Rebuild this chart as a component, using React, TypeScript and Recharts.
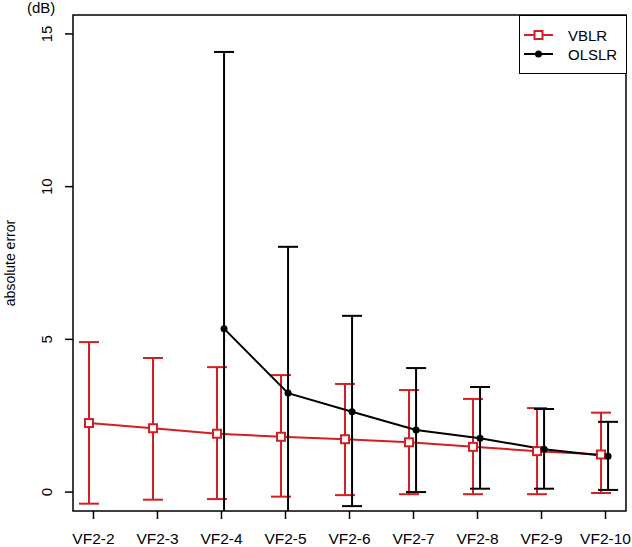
import { LineChart, Line, XAxis, YAxis, ErrorBar, ReferenceArea } from 'recharts'

const categories = ['VF2-2', 'VF2-3', 'VF2-4', 'VF2-5', 'VF2-6', 'VF2-7', 'VF2-8', 'VF2-9', 'VF2-10']

// VBLR: mean, upper whisker, lower whisker
const vblrMean = [2.26, 2.09, 1.91, 1.81, 1.73, 1.63, 1.48, 1.34, 1.23]
const vblrHigh = [4.91, 4.39, 4.09, 3.83, 3.54, 3.34, 3.05, 2.75, 2.6]
const vblrLow = [-0.38, -0.25, -0.23, -0.15, -0.1, -0.07, -0.07, -0.07, -0.03]

// OLSLR starts at VF2-4
const olslrMean = [null, null, 5.35, 3.24, 2.63, 2.03, 1.76, 1.4, 1.17]
const olslrHigh = [null, null, 14.41, 8.03, 5.77, 4.06, 3.44, 2.72, 2.3]
const olslrLow = [null, null, -3.71, -1.55, -0.46, 0.0, 0.11, 0.11, 0.07]

const yTicks = [0, 5, 10, 15]

const RED = '#d21f24'
const FONT = '"Liberation Sans", Arial, sans-serif'

const build = (mean: (number | null)[], hi: (number | null)[], lo: (number | null)[], shift: number) =>
  mean
    .map((m, i) => ({ x: i + 1 + shift, v: m, err: m == null ? null : [m - (lo[i] as number), (hi[i] as number) - m] }))
    .filter(d => d.v != null)

const vblrData = build(vblrMean, vblrHigh, vblrLow, -0.07)
const olslrData = build(olslrMean, olslrHigh, olslrLow, 0.04)

const X_MIN = 0.68
const X_MAX = 9.32
const Y_MIN = -0.62
const Y_MAX = 15.62

const Square = (props: any) => {
  const { cx, cy } = props
  if (cx == null || cy == null) return null
  return <rect x={cx - 4} y={cy - 4} width={8} height={8} fill="#fff" stroke={RED} strokeWidth={2} />
}

const Dot = (props: any) => {
  const { cx, cy } = props
  if (cx == null || cy == null) return null
  return <circle cx={cx} cy={cy} r={3.5} fill="#000" />
}

const YTick = (props: any) => {
  const { x, y, payload } = props
  const bx = x - 13
  return (
    <text x={bx} y={y} transform={`rotate(-90 ${bx} ${y})`} textAnchor="middle" fontSize={15} fontFamily={FONT} fill="#000">
      {payload.value}
    </text>
  )
}

const LegendBox = () => (
  <svg width={108} height={59} style={{ display: 'block' }}>
    <rect x={0.5} y={0.5} width={107} height={58} fill="#fff" stroke="#000" strokeWidth={1} />
    <line x1={5} x2={34} y1={20} y2={20} stroke={RED} strokeWidth={2} />
    <rect x={15.5} y={16} width={8} height={8} fill="#fff" stroke={RED} strokeWidth={2} />
    <text x={49} y={25.5} fontSize={15} fontFamily={FONT}>VBLR</text>
    <line x1={5} x2={34} y1={39} y2={39} stroke="#000" strokeWidth={2} />
    <circle cx={19.5} cy={39} r={3.5} fill="#000" />
    <text x={49} y={44.5} fontSize={15} fontFamily={FONT}>OLSLR</text>
  </svg>
)

export default function App() {
  return (
    <div style={{ position: 'relative', width: 632, height: 547, background: '#fff', overflow: 'hidden' }}>
      <style>{'body{margin:0} .recharts-errorBars, .recharts-errorBar { clip-path: url(#plotClip); }'}</style>
      <svg width={0} height={0} style={{ position: 'absolute' }}>
        <defs>
          <clipPath id="plotClip" clipPathUnits="userSpaceOnUse">
            <rect x={73} y={15} width={553} height={496} />
          </clipPath>
        </defs>
      </svg>
      <LineChart width={632} height={547} margin={{ top: 15, right: 6, left: 0, bottom: 0 }}>
        <XAxis
          dataKey="x"
          type="number"
          domain={[X_MIN, X_MAX]}
          allowDataOverflow
          ticks={[1, 2, 3, 4, 5, 6, 7, 8, 9]}
          tickFormatter={v => categories[v - 1]}
          height={36}
          tickSize={8}
          tickMargin={14}
          axisLine={false}
          tick={{ fill: '#000', fontSize: 15.5, fontFamily: FONT }}
          tickLine={{ stroke: '#000', strokeWidth: 1.5 }}
          interval={0}
        />
        <YAxis
          type="number"
          domain={[Y_MIN, Y_MAX]}
          allowDataOverflow
          ticks={yTicks}
          width={73}
          tickSize={8}
          tickMargin={0}
          axisLine={false}
          tick={<YTick />}
          tickLine={{ stroke: '#000', strokeWidth: 1.5 }}
        />
        <ReferenceArea x1={X_MIN} x2={X_MAX} y1={Y_MIN} y2={Y_MAX} fill="none" stroke="#000" strokeWidth={1.5} />
        <Line
          data={vblrData}
          dataKey="v"
          name="VBLR"
          stroke={RED}
          strokeWidth={2}
          dot={<Square />}
          activeDot={false}
          isAnimationActive={false}
        >
          <ErrorBar dataKey="err" direction="y" width={10} stroke={RED} strokeWidth={2} />
        </Line>
        <Line
          data={olslrData}
          dataKey="v"
          name="OLSLR"
          stroke="#000"
          strokeWidth={2}
          dot={<Dot />}
          activeDot={false}
          isAnimationActive={false}
        >
          <ErrorBar dataKey="err" direction="y" width={10} stroke="#000" strokeWidth={2} />
        </Line>
      </LineChart>
      <div style={{ position: 'absolute', left: 519, top: 15 }}>
        <LegendBox />
      </div>
      <div style={{ position: 'absolute', left: 27, top: 0, fontSize: 15, lineHeight: '15px', fontFamily: FONT }}>(dB)</div>
      <div
        style={{
          position: 'absolute',
          left: 10,
          top: 263,
          fontSize: 14,
          fontFamily: FONT,
          transform: 'translate(-50%, -50%) rotate(-90deg)',
          whiteSpace: 'nowrap',
        }}
      >
        absolute error
      </div>
    </div>
  )
}
